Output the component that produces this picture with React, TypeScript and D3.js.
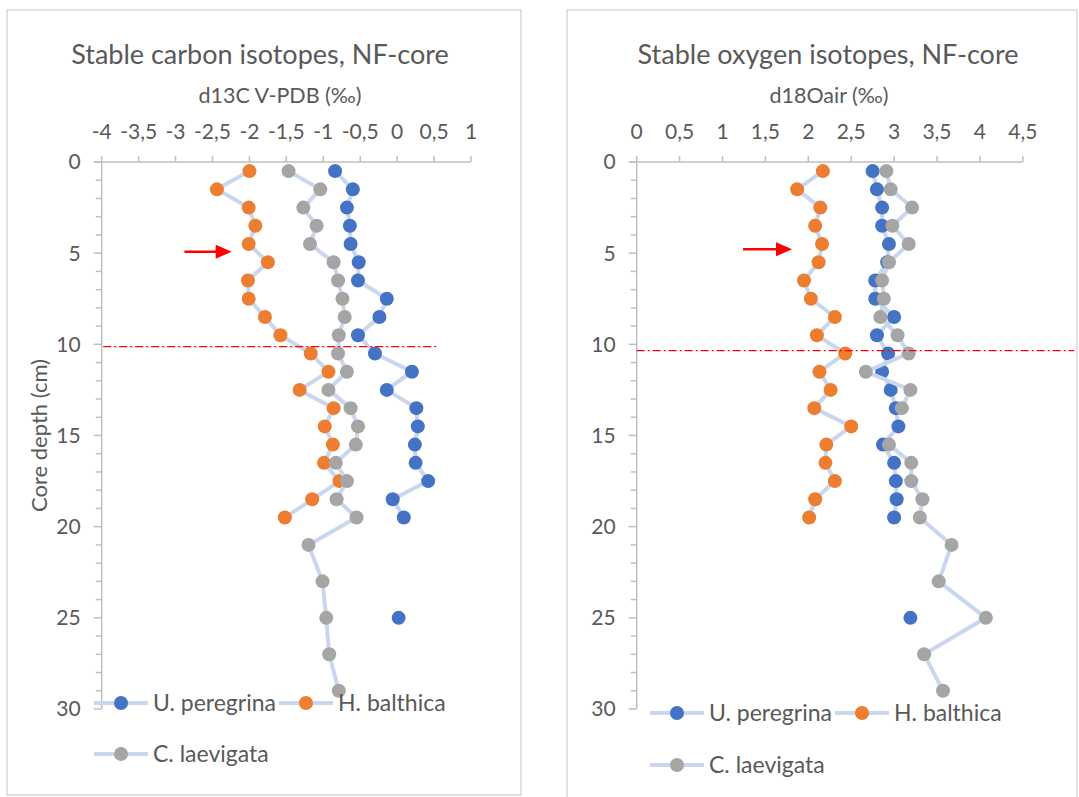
import React from 'react';
import * as d3 from 'd3';

// core depths (cm) shared by all series
const depths = [0.5, 1.5, 2.5, 3.5, 4.5, 5.5, 6.5, 7.5, 8.5, 9.5, 10.5, 11.5, 12.5, 13.5, 14.5, 15.5, 16.5, 17.5, 18.5, 19.5, 21, 23, 25, 27, 29];

// d13C V-PDB
const upC = [-0.84, -0.6, -0.68, -0.64, -0.63, -0.52, -0.53, -0.14, -0.24, -0.53, -0.3, 0.2, -0.14, 0.26, 0.28, 0.24, 0.25, 0.42, -0.06, 0.09, null, null, 0.02, null, null];
const hbC = [-2.0, -2.44, -2.01, -1.92, -2.01, -1.75, -2.02, -2.01, -1.79, -1.58, -1.17, -0.93, -1.32, -0.86, -0.98, -0.87, -0.99, -0.78, -1.15, -1.52, null, null, null, null, null];
const clC = [-1.47, -1.04, -1.27, -1.09, -1.18, -0.86, -0.8, -0.74, -0.71, -0.79, -0.8, -0.68, -0.93, -0.63, -0.53, -0.56, -0.83, -0.68, -0.82, -0.55, -1.2, -1.01, -0.96, -0.92, -0.79];

// d18O air
const upO = [2.75, 2.8, 2.86, 2.86, 2.94, 2.92, 2.78, 2.78, 3.0, 2.8, 2.93, 2.86, 2.96, 3.02, 3.05, 2.87, 3.0, 3.02, 3.03, 3.0, null, null, 3.19, null, null];
const hbO = [2.17, 1.87, 2.14, 2.08, 2.16, 2.12, 1.95, 2.03, 2.31, 2.1, 2.43, 2.13, 2.26, 2.07, 2.5, 2.21, 2.2, 2.31, 2.08, 2.01, null, null, null, null, null];
const clO = [2.91, 2.96, 3.21, 2.98, 3.17, 2.94, 2.86, 2.88, 2.84, 3.04, 3.17, 2.67, 3.19, 3.09, null, 2.94, 3.2, 3.2, 3.33, 3.3, 3.67, 3.52, 4.07, 3.35, 3.57];

const seriesNames = ['U. peregrina', 'H. balthica', 'C. laevigata'];
const seriesColors = ['#4472C4', '#ED7D31', '#A5A5A5'];

const carbonTicks = [-4, -3.5, -3, -2.5, -2, -1.5, -1, -0.5, 0, 0.5, 1];
const oxygenTicks = [0, 0.5, 1, 1.5, 2, 2.5, 3, 3.5, 4, 4.5];
const depthTicks = [0, 5, 10, 15, 20, 25, 30];

const FONT = 'Lato, "Open Sans", sans-serif';
const TXT = '#595959';
const LINE = '#c9d7ee';
const AXIS = '#bfbfbf';

const fmt = (v: number) => String(v).replace('.', ',');

type PanelProps = {
  box: [number, number, number, number];
  xRange: [number, number];
  xDomain: [number, number];
  ticks: number[];
  series: (number | null)[][];
  title: string;
  titleX: number;
  subtitle: string;
  subX: number;
  yTitle?: string;
  marker: { depth: number; from: number; to: number };
  arrow: { depth: number; from: number; to: number };
  legend: { x1: number; x2: number; y1: number; y2: number };
};

const Panel = (p: PanelProps) => {
  const x = d3.scaleLinear().domain(p.xDomain).range(p.xRange);
  const y = d3.scaleLinear().domain([0, 30]).range([162, 709]);
  const x0 = p.xRange[0];
  const minor = d3.range(0, 31);

  const line = d3
    .line<[number, number | null]>()
    .defined(d => d[1] !== null)
    .x(d => x(d[1] as number))
    .y(d => y(d[0]));

  const legendItems = [
    { x: p.legend.x1, y: p.legend.y1, i: 0 },
    { x: p.legend.x2, y: p.legend.y1, i: 1 },
    { x: p.legend.x1, y: p.legend.y2, i: 2 },
  ];

  const ay = y(p.arrow.depth);
  const ax1 = x(p.arrow.from);
  const ax2 = x(p.arrow.to);

  return (
    <g fontFamily={FONT} fill={TXT}>
      <rect x={p.box[0]} y={p.box[1]} width={p.box[2]} height={p.box[3]} fill="white" stroke="#d9d9d9" strokeWidth={1.5} />
      <text x={p.titleX} y={64} textAnchor="middle" fontSize={27}>{p.title}</text>
      <text x={p.subX} y={103} textAnchor="middle" fontSize={21.5}>{p.subtitle}</text>

      {/* top x axis */}
      <line x1={x0 - 7} x2={p.xRange[1]} y1={y(0)} y2={y(0)} stroke={AXIS} strokeWidth={1.5} />
      {p.ticks.map(t => (
        <g key={t}>
          <line x1={x(t)} x2={x(t)} y1={y(0) - 6} y2={y(0)} stroke={AXIS} strokeWidth={1.5} />
          <text x={x(t)} y={139} textAnchor="middle" fontSize={21}>{fmt(t)}</text>
        </g>
      ))}

      {/* left y axis */}
      <line x1={x0} x2={x0} y1={y(0)} y2={y(30)} stroke={AXIS} strokeWidth={1.5} />
      {minor.map(t => (
        <line key={t} x1={x0 - (t % 5 === 0 ? 8 : 6)} x2={x0} y1={y(t)} y2={y(t)} stroke={AXIS} strokeWidth={1.5} />
      ))}
      {depthTicks.map(t => (
        <text key={t} x={x0 - 21} y={y(t)} dy="0.35em" textAnchor="end" fontSize={21}>{t}</text>
      ))}
      {p.yTitle && (
        <text transform={`translate(47,${y(15)}) rotate(-90)`} textAnchor="middle" fontSize={22}>{p.yTitle}</text>
      )}

      {/* series */}
      {p.series.map((vals, i) => {
        const pts = depths.map((d, j) => [d, vals[j]] as [number, number | null]);
        return (
          <g key={i}>
            <path d={line(pts) || ''} fill="none" stroke={LINE} strokeWidth={4} strokeLinejoin="round" />
            {pts.filter(d => d[1] !== null).map((d, j) => (
              <circle key={j} cx={x(d[1] as number)} cy={y(d[0])} r={7} fill={seriesColors[i]} />
            ))}
          </g>
        );
      })}

      {/* annotations */}
      <line x1={x(p.marker.from)} x2={x(p.marker.to)} y1={y(p.marker.depth)} y2={y(p.marker.depth)} stroke="#ff0000" strokeWidth={1.3} strokeDasharray="8,3,2,3" />
      <line x1={ax1} x2={ax2 - 14} y1={ay} y2={ay} stroke="#ff0000" strokeWidth={2.5} />
      <path d={`M${ax2},${ay} L${ax2 - 16},${ay - 7} L${ax2 - 16},${ay + 7} Z`} fill="#ff0000" />

      {/* legend */}
      {legendItems.map(l => (
        <g key={l.i}>
          <line x1={l.x} x2={l.x + 54} y1={l.y} y2={l.y} stroke={LINE} strokeWidth={4} />
          <circle cx={l.x + 27} cy={l.y} r={7} fill={seriesColors[l.i]} />
          <text x={l.x + 59} y={l.y} dy="0.35em" fontSize={23}>{seriesNames[l.i]}</text>
        </g>
      ))}
    </g>
  );
};

const App = () => {
  return (
    <svg width={1079} height={797} style={{ position: 'absolute', left: 0, top: 0, background: 'white' }}>
      <Panel
        box={[7, 10, 514, 785]}
        xRange={[101.7, 471]}
        xDomain={[-4, 1]}
        ticks={carbonTicks}
        series={[upC, hbC, clC]}
        title="Stable carbon isotopes, NF-core"
        titleX={260}
        subtitle="d13C V-PDB (‰)"
        subX={280}
        yTitle="Core depth (cm)"
        marker={{ depth: 10.13, from: -3.98, to: 0.54 }}
        arrow={{ depth: 4.92, from: -2.88, to: -2.24 }}
        legend={{ x1: 94, x2: 279, y1: 703, y2: 754 }}
      />
      <Panel
        box={[567, 10, 510, 795]}
        xRange={[636.7, 1022.8]}
        xDomain={[0, 4.5]}
        ticks={oxygenTicks}
        series={[upO, hbO, clO]}
        title="Stable oxygen isotopes, NF-core"
        titleX={828}
        subtitle="d18Oair (‰)"
        subX={829}
        marker={{ depth: 10.35, from: 0, to: 5.1 }}
        arrow={{ depth: 4.79, from: 1.24, to: 1.81 }}
        legend={{ x1: 650, x2: 835, y1: 713, y2: 765 }}
      />
    </svg>
  );
};

export default App;
